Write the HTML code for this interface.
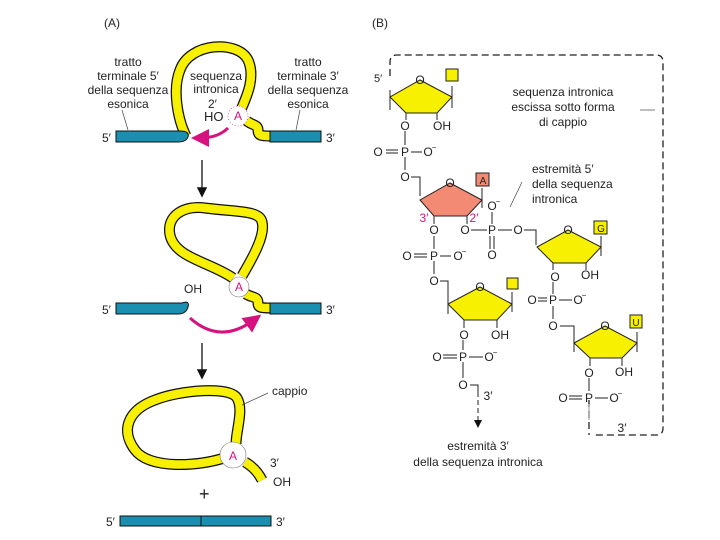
<!DOCTYPE html>
<html><head><style>
html,body{margin:0;padding:0;background:#fff;}
svg{display:block;font-family:"Liberation Sans",sans-serif;}
text{font-size:12px;fill:#222;}
</style></head><body>
<svg width="720" height="540" viewBox="0 0 720 540">
<defs>
<marker id="ah" markerWidth="8" markerHeight="8" refX="6" refY="4" orient="auto"><path d="M0,0 L8,4 L0,8z" fill="#111"/></marker>
<marker id="mh" markerWidth="6" markerHeight="6" refX="3" refY="3" orient="auto"><path d="M0,0 L6,3 L0,6z" fill="#d6127f"/></marker>
</defs>
<text x="104" y="27">(A)</text>
<text x="372" y="27">(B)</text>

<!-- Panel A top -->
<g text-anchor="middle">
<text x="128" y="66">tratto</text><text x="128" y="80">terminale 5′</text><text x="128" y="94">della sequenza</text><text x="128" y="108">esonica</text>
<text x="308" y="66">tratto</text><text x="308" y="80">terminale 3′</text><text x="308" y="94">della sequenza</text><text x="308" y="108">esonica</text>
<text x="216" y="80">sequenza</text><text x="216" y="93">intronica</text>
</g>
<line x1="122" y1="110" x2="128" y2="130" stroke="#444" stroke-width="0.7"/>
<line x1="300" y1="110" x2="296" y2="130" stroke="#444" stroke-width="0.7"/>
<path d="M186,136 C178,120 172,90 180,70 C190,42 238,40 248,60 C256,78 246,98 240,112 M246,120 C250,125 258,124 258,130 C258,136 262,136 270,136" fill="none" stroke="#111" stroke-width="11" stroke-linecap="butt"/>
<path d="M186,136 C178,120 172,90 180,70 C190,42 238,40 248,60 C256,78 246,98 240,112 M246,120 C250,125 258,124 258,130 C258,136 262,136 270,136" fill="none" stroke="#f7f000" stroke-width="8.5"/>
<path d="M116,131 H180 Q190,131 188,137 Q186,142 178,142 H116z" fill="#1a8fb0" stroke="#111" stroke-width="1"/>
<rect x="270" y="131" width="51" height="11" fill="#1a8fb0" stroke="#111" stroke-width="1"/>
<text x="102" y="142">5′</text><text x="326" y="142">3′</text>
<circle cx="238" cy="116" r="10" fill="#fff" stroke="#d6127f" stroke-width="0.6" stroke-dasharray="1 2"/>
<text x="238" y="120" text-anchor="middle" style="fill:#d6127f">A</text>
<text x="208" y="108">2′</text><text x="204" y="121" style="font-size:13px">HO</text>
<path d="M228,128 Q218,138 200,138" fill="none" stroke="#d6127f" stroke-width="3" marker-end="url(#mh)"/>
<line x1="202" y1="160" x2="202" y2="195" stroke="#111" stroke-width="1.3" marker-end="url(#ah)"/>

<!-- middle -->
<path d="M233,278 C210,262 175,258 170,235 C166,215 185,205 205,208 C235,212 260,210 262,222 C266,236 250,262 242,276 M246,294 C252,298 258,296 258,303 C258,308 262,308 270,308" fill="none" stroke="#111" stroke-width="11"/>
<path d="M233,278 C210,262 175,258 170,235 C166,215 185,205 205,208 C235,212 260,210 262,222 C266,236 250,262 242,276 M246,294 C252,298 258,296 258,303 C258,308 262,308 270,308" fill="none" stroke="#f7f000" stroke-width="8.5"/>
<circle cx="239" cy="287" r="10" fill="#fff" stroke="#777" stroke-width="0.6"/>
<text x="239" y="291" text-anchor="middle" style="fill:#d6127f">A</text>
<path d="M116,303 H182 Q190,300 188,307 Q186,314 178,314 H116z" fill="#1a8fb0" stroke="#111" stroke-width="1"/>
<rect x="270" y="303" width="51" height="11" fill="#1a8fb0" stroke="#111" stroke-width="1"/>
<text x="102" y="314">5′</text><text x="326" y="314">3′</text>
<text x="184" y="293">OH</text>
<path d="M190,318 Q220,345 254,320" fill="none" stroke="#d6127f" stroke-width="3" marker-end="url(#mh)"/>
<line x1="202" y1="343" x2="202" y2="377" stroke="#111" stroke-width="1.3" marker-end="url(#ah)"/>

<!-- bottom -->
<path d="M224,458 C200,466 150,470 135,450 C120,430 128,410 155,400 C180,390 230,386 237,398 C244,410 236,430 236,444 M245,462 C252,466 258,472 262,480" fill="none" stroke="#111" stroke-width="11"/>
<path d="M224,458 C200,466 150,470 135,450 C120,430 128,410 155,400 C180,390 230,386 237,398 C244,410 236,430 236,444 M245,462 C252,466 258,472 262,480" fill="none" stroke="#f7f000" stroke-width="8.5"/>
<circle cx="233" cy="455" r="13" fill="#fff" stroke="#777" stroke-width="0.6"/>
<text x="233" y="460" text-anchor="middle" style="fill:#d6127f">A</text>
<line x1="242" y1="405" x2="268" y2="393" stroke="#444" stroke-width="0.7"/>
<text x="272" y="395">cappio</text>
<text x="270" y="467">3′</text><text x="273" y="486">OH</text>
<text x="199" y="500" style="font-size:18px">+</text>
<rect x="120" y="516" width="151" height="10" fill="#1a8fb0" stroke="#111" stroke-width="1"/>
<line x1="201" y1="516" x2="201" y2="526" stroke="#111"/>
<text x="106" y="526">5′</text><text x="276" y="526">3′</text>

<!-- Panel B frame -->
<g fill="none" stroke="#222" stroke-width="1.3" stroke-dasharray="7 4">
<path d="M390,76 V62 Q390,55 397,55 H656 Q663,55 663,62 V428 Q663,435 656,435 H592"/>
<path d="M589,400 V435"/>
</g>
<line x1="640" y1="110" x2="655" y2="110" stroke="#444" stroke-width="0.7"/>
<g text-anchor="middle">
<text x="563" y="96">sequenza intronica</text><text x="563" y="111">escissa sotto forma</text><text x="563" y="126">di cappio</text>
<text x="478" y="450">estremità 3′</text><text x="478" y="466">della sequenza intronica</text>
</g>
<text x="532" y="173">estremità 5′</text><text x="532" y="188">della sequenza</text><text x="532" y="203">intronica</text>
<line x1="522" y1="182" x2="510" y2="207" stroke="#444" stroke-width="0.7"/>

<g stroke="#222" stroke-width="1" fill="none">
<!-- sugar1 -->
<polygon points="420,80 452,97 437,113 406,113 390,97" fill="#f7f000"/>
<line x1="390" y1="90" x2="390" y2="110"/><line x1="452" y1="86" x2="452" y2="108"/>
<line x1="406" y1="113" x2="406" y2="120"/><line x1="437" y1="113" x2="437" y2="120"/>
<line x1="405" y1="131" x2="405" y2="145"/><line x1="405" y1="157" x2="405" y2="170"/>
<line x1="386" y1="150" x2="398" y2="150"/><line x1="386" y1="153" x2="398" y2="153"/><line x1="411" y1="152" x2="422" y2="152"/>
<path d="M411,177 H420 V196"/>
<!-- sugar2 -->
<polygon points="450,183 482,200 467,216 434,216 420,200" fill="#f28a74"/>
<line x1="482" y1="188" x2="482" y2="208"/>
<line x1="434" y1="216" x2="434" y2="224"/><line x1="467" y1="216" x2="467" y2="224"/>
<line x1="471" y1="230" x2="487" y2="230"/><line x1="498" y1="230" x2="512" y2="230"/><path d="M524,230 H536 V245"/>
<line x1="492" y1="212" x2="492" y2="224"/><line x1="490" y1="236" x2="490" y2="249"/><line x1="494" y1="236" x2="494" y2="249"/>
<line x1="434" y1="236" x2="434" y2="249"/><line x1="434" y1="261" x2="434" y2="274"/>
<line x1="414" y1="254" x2="427" y2="254"/><line x1="414" y1="257" x2="427" y2="257"/><line x1="440" y1="256" x2="451" y2="256"/>
<path d="M440,281 H448 V300"/>
<!-- sugar3 -->
<polygon points="568,230 601,247 586,263 553,263 537,247" fill="#f7f000"/>
<line x1="601" y1="236" x2="601" y2="256"/>
<line x1="553" y1="263" x2="553" y2="270"/><line x1="586" y1="263" x2="586" y2="270"/>
<line x1="553" y1="282" x2="553" y2="294"/><line x1="553" y1="306" x2="553" y2="319"/>
<line x1="538" y1="298" x2="547" y2="298"/><line x1="538" y1="301" x2="547" y2="301"/><line x1="559" y1="300" x2="572" y2="300"/>
<path d="M560,326 H574 V345"/>
<!-- sugar4 -->
<polygon points="480,287 512,304 497,320 464,320 448,304" fill="#f7f000"/>
<line x1="512" y1="292" x2="512" y2="312"/><line x1="448" y1="296" x2="448" y2="314"/>
<line x1="464" y1="320" x2="464" y2="328"/><line x1="497" y1="320" x2="497" y2="328"/>
<line x1="463" y1="340" x2="463" y2="350"/><line x1="463" y1="362" x2="463" y2="378"/>
<line x1="443" y1="355" x2="457" y2="355"/><line x1="443" y1="358" x2="457" y2="358"/><line x1="469" y1="357" x2="483" y2="357"/>
<path d="M470,385 H478 V392"/>
<line x1="478" y1="392" x2="478" y2="426" stroke-dasharray="5 3" marker-end="url(#ah)"/>
<!-- sugar5 -->
<polygon points="605,326 637,343 622,358 590,358 574,343" fill="#f7f000"/>
<line x1="637" y1="332" x2="637" y2="352"/><line x1="574" y1="340" x2="574" y2="352"/>
<line x1="590" y1="358" x2="590" y2="366"/><line x1="622" y1="358" x2="622" y2="366"/>
<line x1="589" y1="378" x2="589" y2="391"/>
<line x1="569" y1="396" x2="582" y2="396"/><line x1="569" y1="399" x2="582" y2="399"/><line x1="595" y1="398" x2="608" y2="398"/>
</g>
<line x1="589" y1="404" x2="589" y2="420" stroke="#999" stroke-width="1"/>
<rect x="446" y="69" width="12" height="12" fill="#f7f000" stroke="#222"/>
<rect x="476" y="173" width="13" height="13" fill="#f28a74" stroke="#222"/>
<rect x="594" y="221" width="13" height="13" fill="#f7f000" stroke="#222"/>
<rect x="507" y="278" width="11" height="11" fill="#f7f000" stroke="#222"/>
<rect x="630" y="315" width="12" height="13" fill="#f7f000" stroke="#222"/>
<g style="font-size:11px" text-anchor="middle">
<text x="483" y="184" style="font-size:10px">A</text>
<text x="601" y="232" style="font-size:10px">G</text>
<text x="636" y="326" style="font-size:10px">U</text>
<text x="420" y="84">O</text><text x="405" y="130">O</text><text x="442" y="130">OH</text>
<text x="378" y="156">O</text><text x="405" y="156">P</text><text x="428" y="156">O</text><text x="434" y="150" style="font-size:8px">−</text>
<text x="405" y="181">O</text>
<text x="450" y="187">O</text>
<text x="424" y="222" style="fill:#d6127f">3′</text><text x="474" y="222" style="fill:#d6127f">2′</text>
<text x="434" y="234">O</text><text x="465" y="234">O</text><text x="492" y="234">P</text><text x="518" y="234">O</text>
<text x="492" y="210">O</text><text x="498" y="204" style="font-size:8px">−</text><text x="492" y="259">O</text>
<text x="407" y="260">O</text><text x="434" y="260">P</text><text x="458" y="260">O</text><text x="464" y="254" style="font-size:8px">−</text>
<text x="434" y="285">O</text>
<text x="568" y="234">O</text><text x="555" y="281">O</text><text x="590" y="279">OH</text>
<text x="532" y="304">O</text><text x="553" y="304">P</text><text x="578" y="304">O</text><text x="584" y="298" style="font-size:8px">−</text>
<text x="553" y="330">O</text>
<text x="480" y="291">O</text><text x="464" y="339">O</text><text x="500" y="339">OH</text>
<text x="437" y="361">O</text><text x="463" y="361">P</text><text x="489" y="361">O</text><text x="495" y="355" style="font-size:8px">−</text>
<text x="463" y="389">O</text><text x="488" y="400">3′</text>
<text x="605" y="330">O</text><text x="589" y="377">O</text><text x="624" y="376">OH</text>
<text x="563" y="402">O</text><text x="589" y="402">P</text><text x="614" y="402">O</text><text x="620" y="396" style="font-size:8px">−</text>
<text x="622" y="432">3′</text>
</g>
<text x="374" y="82" style="font-size:11px">5′</text>
</svg>
</body></html>
